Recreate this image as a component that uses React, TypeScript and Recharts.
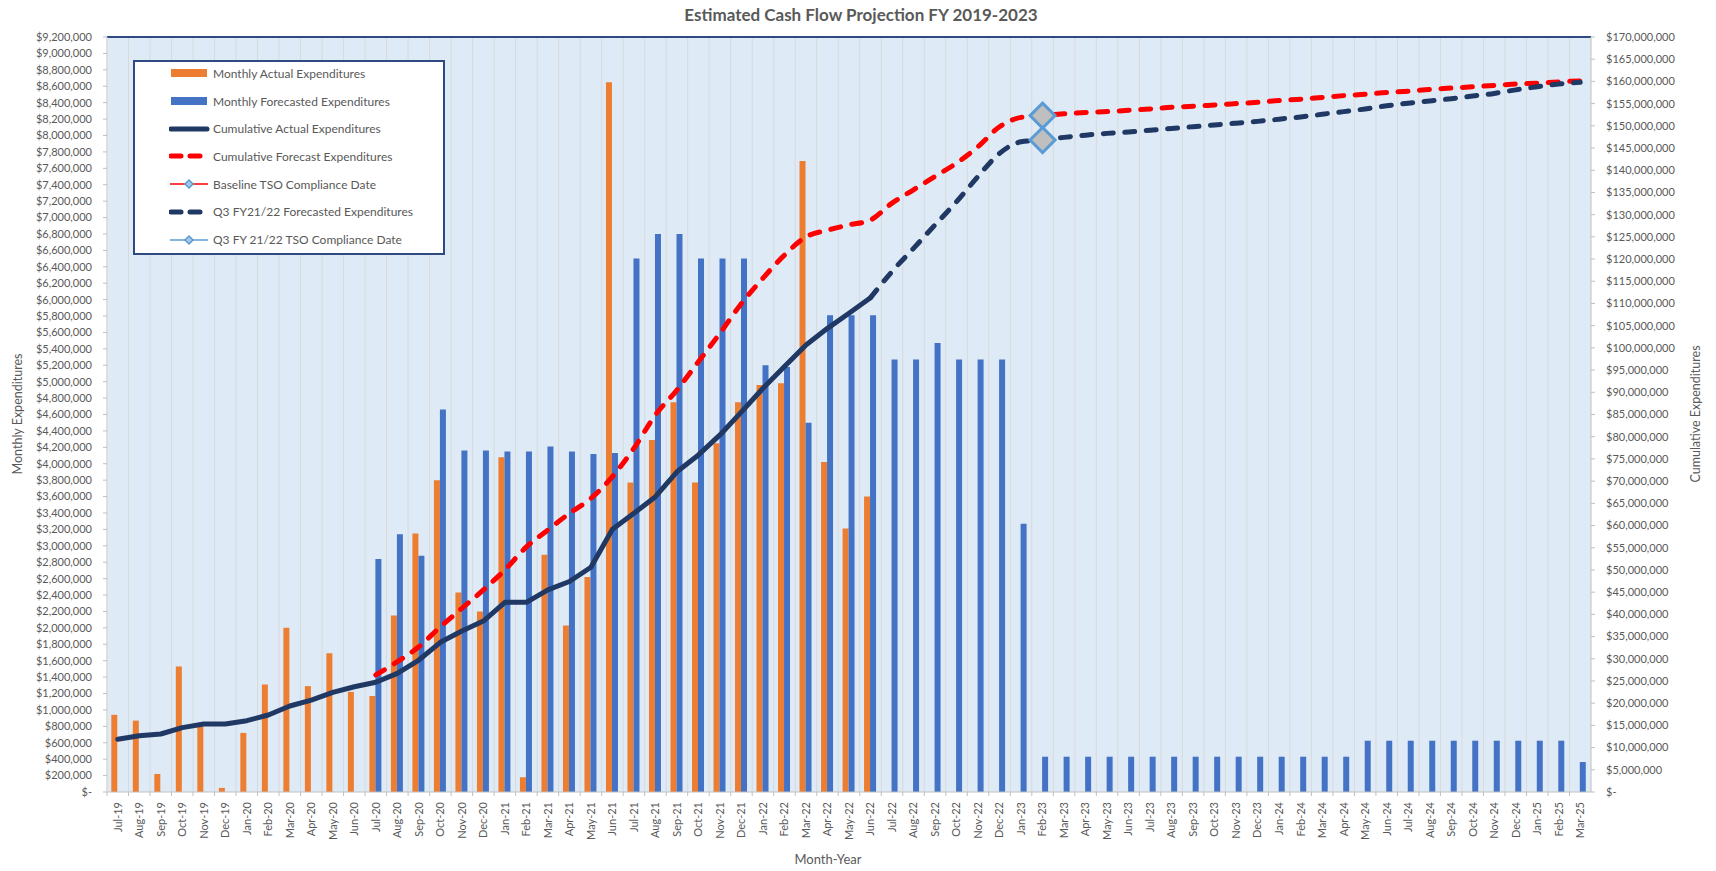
import React from 'react';
import {
  ComposedChart,
  Bar,
  Line,
  XAxis,
  YAxis,
  CartesianGrid,
  ReferenceLine,
  Legend,
} from 'recharts';

const FONT = 'Lato, "Open Sans", sans-serif';
const GREY = '#595959';
const ORANGE = '#ED7D31';
const BLUE = '#4472C4';
const NAVY = '#203864';
const RED = '#FF0000';
const LIGHT_BLUE = '#5B9BD5';
const DASH = '10 11.5';

const M = 1000000;

// x axis categories
const months = [
  'Jul-19', 'Aug-19', 'Sep-19', 'Oct-19', 'Nov-19', 'Dec-19',
  'Jan-20', 'Feb-20', 'Mar-20', 'Apr-20', 'May-20', 'Jun-20', 'Jul-20', 'Aug-20', 'Sep-20', 'Oct-20', 'Nov-20', 'Dec-20',
  'Jan-21', 'Feb-21', 'Mar-21', 'Apr-21', 'May-21', 'Jun-21', 'Jul-21', 'Aug-21', 'Sep-21', 'Oct-21', 'Nov-21', 'Dec-21',
  'Jan-22', 'Feb-22', 'Mar-22', 'Apr-22', 'May-22', 'Jun-22', 'Jul-22', 'Aug-22', 'Sep-22', 'Oct-22', 'Nov-22', 'Dec-22',
  'Jan-23', 'Feb-23', 'Mar-23', 'Apr-23', 'May-23', 'Jun-23', 'Jul-23', 'Aug-23', 'Sep-23', 'Oct-23', 'Nov-23', 'Dec-23',
  'Jan-24', 'Feb-24', 'Mar-24', 'Apr-24', 'May-24', 'Jun-24', 'Jul-24', 'Aug-24', 'Sep-24', 'Oct-24', 'Nov-24', 'Dec-24',
  'Jan-25', 'Feb-25', 'Mar-25',
];

// monthly values in $M (left axis), starting Jul-19
const monthlyActual = [
  0.94, 0.87, 0.22, 1.53, 0.8, 0.05, 0.72, 1.31, 2.0, 1.29, 1.69, 1.22,
  1.17, 2.15, 3.15, 3.8, 2.43, 2.2, 4.08, 0.18, 2.89, 2.03, 2.62, 8.65,
  3.77, 4.29, 4.75, 3.77, 4.25, 4.75, 4.96, 4.98, 7.69, 4.02, 3.21, 3.6,
];

// starting Jul-20
const monthlyForecast = [
  2.84, 3.14, 2.88, 4.66, 4.16, 4.16, 4.15, 4.15, 4.21, 4.15, 4.12, 4.13,
  6.5, 6.8, 6.8, 6.5, 6.5, 6.5, 5.2, 5.18, 4.5, 5.81, 5.81, 5.81,
  5.27, 5.27, 5.47, 5.27, 5.27, 5.27, 3.27,
  0.43, 0.43, 0.43, 0.43, 0.43, 0.43, 0.43, 0.43, 0.43, 0.43, 0.43, 0.43, 0.43, 0.43, 0.43,
  0.625, 0.625, 0.625, 0.625, 0.625, 0.625, 0.625, 0.625, 0.625, 0.625,
  0.365,
];

// cumulative values in $M (right axis)
// starting Jul-19
const cumulativeActual = [
  11.87, 12.68, 13.06, 14.49, 15.3, 15.3, 16.06, 17.34, 19.36, 20.7, 22.44, 23.7,
  24.7, 26.72, 29.72, 33.7, 36.25, 38.5, 42.7, 42.7, 45.5, 47.4, 50.6, 59.15,
  62.75, 66.5, 72.1, 75.9, 80.4, 85.6, 90.9, 95.8, 100.65, 104.4, 107.8, 111.3,
];

// starting Jul-20
const cumulativeForecast = [
  26.35, 29.35, 32.7, 37.2, 41.35, 45.5, 50.0, 55.2, 59.0, 62.75, 66.1, 71.0,
  77.4, 84.9, 90.5, 96.9, 103.3, 110.0, 115.7, 120.9, 125.0, 126.5, 127.7, 128.8,
  132.6, 135.6, 138.6, 141.6, 145.3, 149.8, 151.9, 152.3, 152.7, 153.0, 153.2, 153.5,
  153.8, 154.2, 154.4, 154.7, 155.0, 155.3, 155.7, 156.0, 156.4, 156.8, 157.1, 157.5,
  157.8, 158.2, 158.5, 158.8, 159.1, 159.4, 159.6, 159.9, 160.1,
];

// starting Jun-22
const q3Forecast = [
  111.3, 117.2, 122.4, 127.7, 132.9, 138.6, 143.8, 146.4, 146.8, 147.4, 147.9, 148.3,
  148.6, 149.0, 149.4, 149.8, 150.2, 150.6, 151.0, 151.5, 152.0, 152.6, 153.2, 153.8,
  154.5, 155.1, 155.6, 156.1, 156.7, 157.3, 158.1, 158.8, 159.4, 159.8,
];

// compliance date markers (Feb-23)
const baselineCompliance = [152.3];
const q3Compliance = [146.8];

const leftTicks = Array.from({ length: 47 }, (_, i) => i * 200000);
const rightTicks = Array.from({ length: 35 }, (_, i) => i * 5000000);

const pick = (arr: number[], start: string, i: number) => {
  const k = i - months.indexOf(start);
  return k >= 0 && k < arr.length ? arr[k] * M : null;
};

const data = months.map((month, i) => ({
  month,
  actual: pick(monthlyActual, 'Jul-19', i),
  forecast: pick(monthlyForecast, 'Jul-20', i),
  cumActual: pick(cumulativeActual, 'Jul-19', i),
  cumForecast: pick(cumulativeForecast, 'Jul-20', i),
  baseline: pick(baselineCompliance, 'Feb-23', i),
  q3Date: pick(q3Compliance, 'Feb-23', i),
  q3Forecast: pick(q3Forecast, 'Jun-22', i),
}));

const money = (v: number) => (v === 0 ? '$-' : '$' + v.toLocaleString('en-US'));

const MonthTick = ({ x, y, payload }: any) => {
  const half = payload && payload.offset ? payload.offset : 0;
  return (
    <g>
      <line x1={x - half} x2={x - half} y1={y} y2={y + 4} stroke="#BFBFBF" />
      <text
        transform={`translate(${x},${y + 10}) rotate(-90)`}
        textAnchor="end"
        dy="0.35em"
        fill={GREY}
        fontSize={11}
        fontFamily={FONT}
      >
        {payload.value}
      </text>
    </g>
  );
};

const Diamond = (props: any) => {
  const { cx, cy, index } = props;
  if (cx == null || cy == null || isNaN(cy)) return <g key={`d-${index}`} />;
  const r = 12.5;
  return (
    <path
      key={`d-${index}`}
      d={`M${cx},${cy - r} L${cx + r},${cy} L${cx},${cy + r} L${cx - r},${cy} Z`}
      fill="#BFBFBF"
      stroke={LIGHT_BLUE}
      strokeWidth={3}
    />
  );
};

const legendItems = [
  { label: 'Monthly Actual Expenditures', kind: 'rect', color: ORANGE },
  { label: 'Monthly Forecasted Expenditures', kind: 'rect', color: BLUE },
  { label: 'Cumulative Actual Expenditures', kind: 'line', color: NAVY },
  { label: 'Cumulative Forecast Expenditures', kind: 'dash', color: RED },
  { label: 'Baseline TSO Compliance Date', kind: 'marker', color: RED },
  { label: 'Q3 FY21/22 Forecasted Expenditures', kind: 'dash', color: NAVY },
  { label: 'Q3 FY 21/22 TSO Compliance Date', kind: 'marker', color: LIGHT_BLUE },
];

const LegendSymbol = ({ kind, color }: { kind: string; color: string }) => (
  <svg width={42} height={16} style={{ display: 'block' }}>
    {kind === 'rect' && <rect x={2} y={4} width={36} height={8} fill={color} />}
    {kind === 'line' && (
      <line x1={2} x2={38} y1={8} y2={8} stroke={color} strokeWidth={5} strokeLinecap="round" />
    )}
    {kind === 'dash' && (
      <>
        <line x1={2} x2={12} y1={8} y2={8} stroke={color} strokeWidth={5} strokeLinecap="round" />
        <line x1={21} x2={31} y1={8} y2={8} stroke={color} strokeWidth={5} strokeLinecap="round" />
      </>
    )}
    {kind === 'marker' && (
      <>
        <line x1={1} x2={39} y1={8} y2={8} stroke={color} strokeWidth={1.5} />
        <path d="M20,4 L24,8 L20,12 L16,8 Z" fill="#A6C8E8" stroke={LIGHT_BLUE} strokeWidth={1.5} />
      </>
    )}
  </svg>
);

const LegendBox = () => (
  <div
    style={{
      width: 312,
      height: 195,
      boxSizing: 'border-box',
      border: '2px solid #2F4A80',
      background: '#FFFFFF',
      position: 'relative',
    }}
  >
    {legendItems.map((item, i) => (
      <div
        key={item.label}
        style={{
          position: 'absolute',
          left: 34,
          top: 11.3 + i * 27.7 - 8,
          height: 16,
          display: 'flex',
          alignItems: 'center',
          whiteSpace: 'nowrap',
        }}
      >
        <LegendSymbol kind={item.kind} color={item.color} />
        <span style={{ fontFamily: FONT, fontSize: 12, color: GREY, marginLeft: 2 }}>{item.label}</span>
      </div>
    ))}
  </div>
);

export default function App() {
  return (
    <div style={{ position: 'absolute', left: 0, top: 0, width: 1716, height: 871, background: '#FFFFFF' }}>
      <ComposedChart
        width={1716}
        height={871}
        data={data}
        margin={{ top: 37, right: 0, bottom: 0, left: 0 }}
        barCategoryGap="20%"
        barGap={0}
      >
        <CartesianGrid
          fill="#DEEBF7"
          horizontal={false}
          stroke="#D9D9D9"
          verticalCoordinatesGenerator={({ offset }: any) =>
            months.map((_, k) => offset.left + (k * offset.width) / months.length)
          }
        />
        <XAxis
          dataKey="month"
          interval={0}
          height={79}
          tickSize={0}
          tickMargin={0}
          tickLine={false}
          axisLine={{ stroke: '#BFBFBF' }}
          tick={<MonthTick />}
        />
        <YAxis
          yAxisId="left"
          width={107}
          domain={[0, 9200000]}
          ticks={leftTicks}
          interval={0}
          tickFormatter={money}
          tickSize={4}
          tickMargin={11}
          axisLine={{ stroke: '#D9D9D9' }}
          tickLine={{ stroke: '#BFBFBF' }}
          tick={{ fill: GREY, fontSize: 11, fontFamily: FONT }}
        />
        <YAxis
          yAxisId="right"
          orientation="right"
          width={125}
          domain={[0, 170000000]}
          ticks={rightTicks}
          interval={0}
          tickFormatter={money}
          tickSize={4}
          tickMargin={11}
          axisLine={{ stroke: '#BFBFBF' }}
          tickLine={{ stroke: '#BFBFBF' }}
          tick={{ fill: GREY, fontSize: 11, fontFamily: FONT }}
        />
        <ReferenceLine yAxisId="left" y={9200000} stroke="#2F4A80" strokeWidth={2} />
        <Bar yAxisId="left" dataKey="actual" fill={ORANGE} isAnimationActive={false} />
        <Bar yAxisId="left" dataKey="forecast" fill={BLUE} isAnimationActive={false} />
        <Line
          yAxisId="right"
          type="linear"
          dataKey="cumActual"
          stroke={NAVY}
          strokeWidth={5}
          strokeLinecap="round"
          strokeLinejoin="round"
          dot={false}
          activeDot={false}
          isAnimationActive={false}
        />
        <Line
          yAxisId="right"
          type="monotone"
          dataKey="cumForecast"
          stroke={RED}
          strokeWidth={5}
          strokeDasharray={DASH}
          strokeLinecap="round"
          dot={false}
          activeDot={false}
          isAnimationActive={false}
        />
        <Line
          yAxisId="right"
          dataKey="baseline"
          stroke={RED}
          strokeWidth={1.5}
          dot={Diamond}
          activeDot={false}
          isAnimationActive={false}
        />
        <Line
          yAxisId="right"
          dataKey="q3Date"
          stroke={LIGHT_BLUE}
          strokeWidth={1.5}
          dot={Diamond}
          activeDot={false}
          isAnimationActive={false}
        />
        <Line
          yAxisId="right"
          type="monotone"
          dataKey="q3Forecast"
          stroke={NAVY}
          strokeWidth={5}
          strokeDasharray={DASH}
          strokeLinecap="round"
          dot={false}
          activeDot={false}
          isAnimationActive={false}
        />
        <Legend
          layout="vertical"
          align="center"
          verticalAlign="middle"
          content={() => <LegendBox />}
          wrapperStyle={{ left: 133, top: 60, width: 312, height: 195 }}
        />
      </ComposedChart>
      <svg
        width={1716}
        height={871}
        style={{ position: 'absolute', left: 0, top: 0, pointerEvents: 'none' }}
      >
        <text x={861} y={21} textAnchor="middle" fontFamily={FONT} fontWeight={700} fontSize={17} fill={GREY}>
          Estimated Cash Flow Projection FY 2019-2023
        </text>
        <text
          transform="translate(18,414) rotate(-90)"
          textAnchor="middle"
          dy="0.35em"
          fontFamily={FONT}
          fontSize={12.5}
          fill={GREY}
        >
          Monthly Expenditures
        </text>
        <text
          transform="translate(1696,414) rotate(-90)"
          textAnchor="middle"
          dy="0.35em"
          fontFamily={FONT}
          fontSize={12.5}
          fill={GREY}
        >
          Cumulative Expenditures
        </text>
        <text x={828} y={864} textAnchor="middle" fontFamily={FONT} fontSize={13} fill={GREY}>
          Month-Year
        </text>
      </svg>
    </div>
  );
}
